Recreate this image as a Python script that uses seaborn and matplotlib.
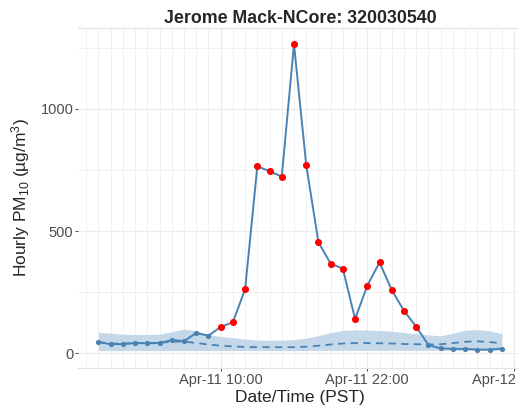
import numpy as np
import pandas as pd
import matplotlib
matplotlib.use("Agg")
import matplotlib.pyplot as plt
import matplotlib.dates as mdates
import seaborn as sns

# ---- data ----
start_time = "2024-04-11 00:00"
n_hours = 34
pm10 = [46, 37, 38, 42, 41, 42, 54, 50, 83, 72, 108, 127, 262, 765, 745, 723,
        1265, 771, 454, 367, 346, 140, 277, 372, 259, 174, 109, 34, 20, 18, 18,
        15, 15, 19]
exceed = [False] * 10 + [True] * 17 + [False] * 7
typical_median = [46, 40, 40, 41, 42, 43, 47, 48, 42, 36, 31, 28, 26, 25, 25, 25,
                  25, 27, 31, 36, 40, 42, 42, 41, 40, 38, 37, 36, 37, 42, 47, 49,
                  46, 41]
typical_upper = [86, 82, 78, 77, 77, 78, 88, 99, 92, 78, 68, 64, 58, 54, 53, 54,
                 56, 62, 72, 85, 93, 96, 95, 93, 90, 85, 80, 75, 72, 82, 94, 97,
                 92, 80]
typical_lower = [11, 11, 11, 11, 11, 11, 11, 11, 11, 11, 11, 11, 11, 11, 11, 11,
                 11, 11, 12, 12, 12, 12, 12, 12, 12, 12, 12, 12, 12, 12, 12, 12,
                 12, 12]
title = "Jerome Mack-NCore: 320030540"
xlabel = "Date/Time (PST)"
ylabel = "Hourly PM$_{10}$ (\u00b5g/m$^{3}$)"
y_ticks = [0, 500, 1000]
y_minor = [250, 750, 1250]

times = pd.date_range(start_time, periods=n_hours, freq="h")
df = pd.DataFrame({"time": times, "pm10": pm10, "exceed": exceed,
                   "median": typical_median, "upper": typical_upper,
                   "lower": typical_lower})

sns.set_theme(style="white")
plt.rcParams["font.family"] = ["Liberation Sans", "DejaVu Sans"]
plt.rcParams["mathtext.fontset"] = "custom"
plt.rcParams["mathtext.rm"] = "Liberation Sans"
plt.rcParams["mathtext.it"] = "Liberation Sans:italic"
plt.rcParams["mathtext.bf"] = "Liberation Sans:bold"

W, H = 518, 409
fig = plt.figure(figsize=(W / 100, H / 100), dpi=100)
left, right, bottom, top = 78.3, 521.9, 367.7, 28.3
ax = fig.add_axes([left / W, (H - bottom) / H, (right - left) / W, (bottom - top) / H])

steel = "#4a82b4"
ax.fill_between(df["time"], df["lower"], df["upper"], color="#c5d8ea", lw=0, zorder=1)
sns.lineplot(data=df, x="time", y="median", ax=ax, color=steel, lw=1.3,
             linestyle=(0, (4, 3)), zorder=2)
sns.lineplot(data=df, x="time", y="pm10", ax=ax, color=steel, lw=1.4, zorder=3)
sns.scatterplot(data=df[~df["exceed"]], x="time", y="pm10", ax=ax, color=steel,
                s=14, linewidth=0, zorder=4)
sns.scatterplot(data=df[df["exceed"]], x="time", y="pm10", ax=ax, color="#ff0000",
                s=26, linewidth=0, zorder=5)

x0 = times[0] - pd.Timedelta(hours=1.65)
x1 = times[-1] + pd.Timedelta(hours=1.65)
ax.set_xlim(x0, x1)
ax.set_ylim(-59, 1330)

ax.xaxis.set_major_locator(mdates.HourLocator(byhour=[10, 22]))
ax.xaxis.set_major_formatter(mdates.DateFormatter("%b-%d %H:%M"))
ax.xaxis.set_minor_locator(mdates.HourLocator())
ax.set_yticks(y_ticks)
ax.set_yticks(y_minor, minor=True)

ax.grid(True, which="major", color="#ebebeb", lw=0.8, zorder=0)
ax.grid(True, which="minor", color="#f0f0f0", lw=0.7, zorder=0)
ax.set_axisbelow(True)

for s in ["left", "right"]:
    ax.spines[s].set_visible(False)
for s in ["top", "bottom"]:
    ax.spines[s].set_color("#e3e3e3")
    ax.spines[s].set_linewidth(0.9)

ax.tick_params(axis="both", which="major", length=2.5, width=0.8, color="#555555",
               labelsize=10.5, labelcolor="#4d4d4d", pad=1, bottom=True, left=True)
ax.tick_params(axis="both", which="minor", length=0)

ax.set_title(title, fontsize=12.8, fontweight="bold", pad=4)
ax.set_xlabel(xlabel, fontsize=12.5, labelpad=2.5)
ax.set_ylabel("")
fig.text(26.5 / W, (H - 197.5) / H, ylabel, rotation=90, rotation_mode="anchor",
         ha="center", va="baseline", fontsize=12.5)

fig.savefig("out.png", dpi=100)
